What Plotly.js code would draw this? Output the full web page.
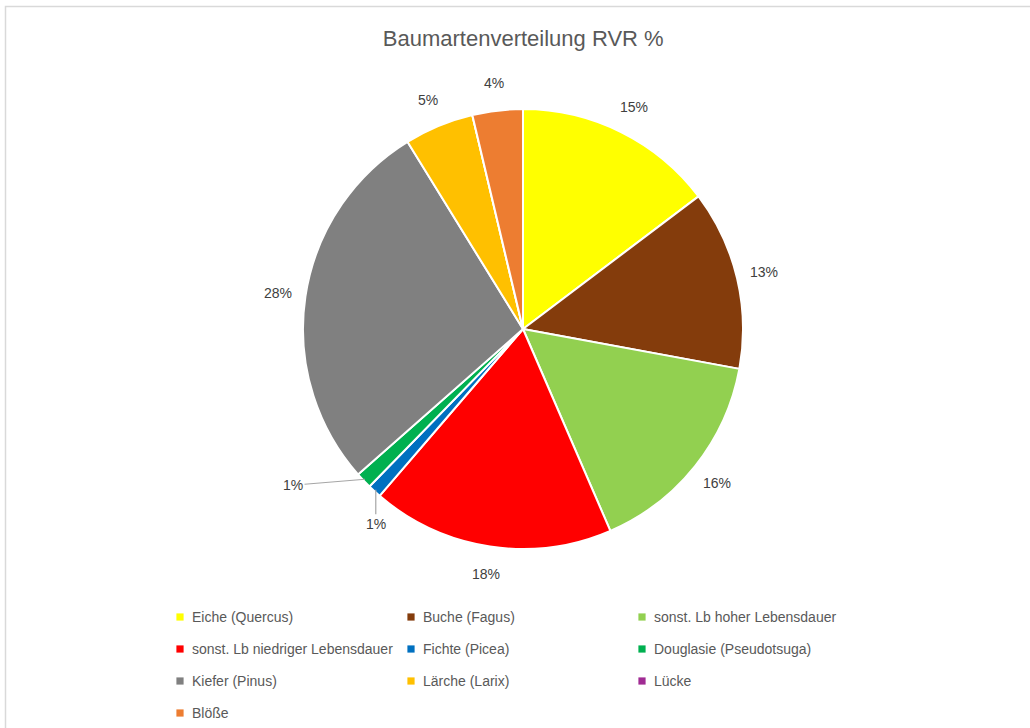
<!DOCTYPE html>
<html>
<head>
<meta charset="utf-8">
<script src="https://cdn.plot.ly/plotly-3.0.1.min.js"></script>
<style>
html,body{margin:0;padding:0;background:#fff;}
#chart{width:1030px;height:728px;}
</style>
</head>
<body>
<div id="chart"></div>
<script>
const categories = ["Eiche (Quercus)", "Buche (Fagus)", "sonst. Lb hoher Lebensdauer", "sonst. Lb niedriger Lebensdauer", "Fichte (Picea)", "Douglasie (Pseudotsuga)", "Kiefer (Pinus)", "Lärche (Larix)", "Lücke", "Blöße"];
const values = [14.7, 13.2, 15.6, 17.8, 1.0, 1.2, 27.7, 5.1, 0, 3.7];
const colors = ["#FFFF00", "#843C0C", "#92D050", "#FF0000", "#0070C0", "#00B050", "#808080", "#FFC000", "#A02B93", "#ED7D31"];

// label callout offsets (px) for the thin slices, relative to their outer edge
const callouts = {"Fichte (Picea)": [0, 34], "Douglasie (Pseudotsuga)": [-72, 6]};

const W = 1030, H = 728;
const cx = 523, cy = 329, R = 220, labelR = 248;

const total = values.reduce((a, b) => a + b, 0);
const labelsText = values.map(v => v > 0 ? Math.round(v / total * 100) + "%" : "");

const labelFont = {family: "Liberation Sans, Arial, sans-serif", size: 14, color: "#404040"};

// data labels computed from slice mid-angles
const annotations = [];
let cum = 0;
values.forEach((v, i) => {
  const mid = (cum + v / 2) / total;
  cum += v;
  if (v <= 0) return;
  const th = 2 * Math.PI * mid;
  if (callouts[categories[i]]) {
    const ex = cx + (R - 2) * Math.sin(th), ey = cy - (R - 2) * Math.cos(th);
    const off = callouts[categories[i]];
    annotations.push({xref: "paper", yref: "paper", x: ex / W, y: 1 - ey / H, text: labelsText[i],
      showarrow: true, arrowhead: 0, arrowwidth: 1.2, arrowcolor: "#A6A6A6", standoff: 0,
      ax: off[0], ay: off[1], font: labelFont});
  } else {
    const lx = cx + labelR * Math.sin(th), ly = cy - labelR * Math.cos(th);
    annotations.push({xref: "paper", yref: "paper", x: lx / W, y: 1 - ly / H, xanchor: "center", yanchor: "middle",
      text: labelsText[i], showarrow: false, font: labelFont});
  }
});

const trace = {
  type: "pie",
  labels: categories,
  values: values,
  textinfo: "none",
  sort: false,
  direction: "clockwise",
  rotation: 0,
  hoverinfo: "label+percent",
  marker: {colors: colors, line: {color: "#ffffff", width: 2}},
  domain: {x: [(cx - R) / W, (cx + R) / W], y: [1 - (cy + R) / H, 1 - (cy - R) / H]}
};

const layout = {
  width: W, height: H,
  margin: {l: 0, r: 0, t: 0, b: 0},
  paper_bgcolor: "#ffffff",
  title: {text: "Baumartenverteilung RVR %", x: 0.508, xanchor: "center", y: 1 - 38 / H, yanchor: "middle",
          font: {family: "Liberation Sans, Arial, sans-serif", size: 22, color: "#595959"}},
  showlegend: true,
  legend: {orientation: "h", x: 160 / W, xanchor: "left", y: 1 - 604 / H, yanchor: "top",
           entrywidth: 231, entrywidthmode: "pixels", traceorder: "normal", bgcolor: "rgba(0,0,0,0)",
           font: {family: "Liberation Sans, Arial, sans-serif", size: 14, color: "#595959"}},
  annotations: annotations,
  shapes: [{type: "rect", xref: "paper", yref: "paper", x0: 5.5 / W, x1: 1.02, y0: -0.02, y1: 1 - 6.5 / H,
            line: {color: "#D9D9D9", width: 1.5}, fillcolor: "rgba(0,0,0,0)", layer: "below"}]
};

Plotly.newPlot("chart", [trace], layout, {displayModeBar: false, staticPlot: true}).then(fixLegend);

function fixLegend() {
  document.querySelectorAll("#chart .legend [clip-path]").forEach(e => e.removeAttribute("clip-path"));
  const sb = document.querySelector("#chart .legend .scrollbar");
  if (sb) sb.style.display = "none";
  const items = document.querySelectorAll("#chart .legend .traces");
  items.forEach((g, i) => {
    const col = i % 3, row = Math.floor(i / 3);
    g.setAttribute("transform", "translate(" + (col * 231) + "," + (row * 32 + 13) + ")");
    g.querySelectorAll(".legendpoints path").forEach(p => {
      p.setAttribute("transform", "translate(20,0) scale(0.6)");
      p.style.strokeWidth = "0";
    });
    const t = g.querySelector("text.legendtext");
    if (t) t.setAttribute("x", "32");
  });
}
</script>
</body>
</html>
